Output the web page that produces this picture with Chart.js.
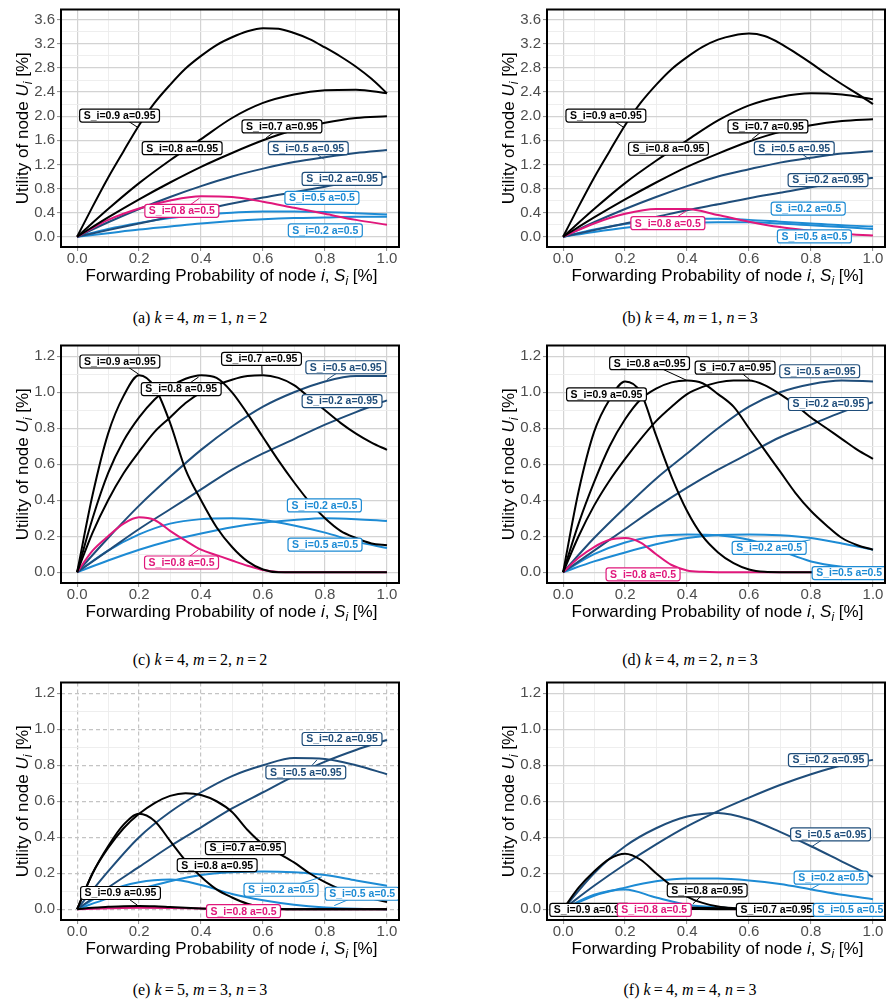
<!DOCTYPE html>
<html>
<head>
<meta charset="utf-8">
<script src="https://cdn.jsdelivr.net/npm/chart.js@4.4.1/dist/chart.umd.min.js"></script>
<style>
  body { margin: 0; background: #fff; width: 886px; height: 1008px; overflow: hidden; position: relative; }
  canvas { position: absolute; }
  .cap { position: absolute; width: 400px; text-align: center; font: 16px "Liberation Serif", "DejaVu Serif", serif; color: #000; line-height: 18px; }
</style>
</head>
<body>
<canvas id="pa" width="400" height="300" style="left:0;top:0"></canvas>
<canvas id="pb" width="400" height="300" style="left:486px;top:0"></canvas>
<canvas id="pc" width="400" height="300" style="left:0;top:336px"></canvas>
<canvas id="pd" width="400" height="300" style="left:486px;top:336px"></canvas>
<canvas id="pe" width="400" height="300" style="left:0;top:673px"></canvas>
<canvas id="pf" width="400" height="300" style="left:486px;top:673px"></canvas>

<div class="cap" style="left:0;top:309px">(a) <i>k</i>&thinsp;=&thinsp;4, <i>m</i>&thinsp;=&thinsp;1, <i>n</i>&thinsp;=&thinsp;2</div>
<div class="cap" style="left:490px;top:309px">(b) <i>k</i>&thinsp;=&thinsp;4, <i>m</i>&thinsp;=&thinsp;1, <i>n</i>&thinsp;=&thinsp;3</div>
<div class="cap" style="left:0;top:651px">(c) <i>k</i>&thinsp;=&thinsp;4, <i>m</i>&thinsp;=&thinsp;2, <i>n</i>&thinsp;=&thinsp;2</div>
<div class="cap" style="left:490px;top:651px">(d) <i>k</i>&thinsp;=&thinsp;4, <i>m</i>&thinsp;=&thinsp;2, <i>n</i>&thinsp;=&thinsp;3</div>
<div class="cap" style="left:0;top:981px">(e) <i>k</i>&thinsp;=&thinsp;5, <i>m</i>&thinsp;=&thinsp;3, <i>n</i>&thinsp;=&thinsp;3</div>
<div class="cap" style="left:490px;top:981px">(f) <i>k</i>&thinsp;=&thinsp;4, <i>m</i>&thinsp;=&thinsp;4, <i>n</i>&thinsp;=&thinsp;3</div>

<script>
// x grids the curves were read on
const xFine = [0, 0.05, 0.1, 0.15, 0.2, 0.25, 0.3, 0.35, 0.4, 0.45, 0.5, 0.55, 0.6, 0.65, 0.7, 0.75, 0.8, 0.85, 0.9, 0.95, 1];
const xCoarse = [0, 0.1, 0.2, 0.3, 0.4, 0.5, 0.6, 0.7, 0.8, 0.9, 1];

// tick labels
const xTicks = [0, 0.2, 0.4, 0.6, 0.8, 1.0];
const yTicksTall = [0, 0.4, 0.8, 1.2, 1.6, 2.0, 2.4, 2.8, 3.2, 3.6];
const yTicksShort = [0, 0.2, 0.4, 0.6, 0.8, 1.0, 1.2];

// (a) k=4, m=1, n=2
const a_09_95 = [0, 0.5, 0.98, 1.42, 1.85, 2.22, 2.52, 2.79, 3.0, 3.18, 3.31, 3.41, 3.46, 3.45, 3.38, 3.28, 3.14, 2.99, 2.82, 2.62, 2.38];
const a_08_95 = [0, 0.46, 0.89, 1.27, 1.62, 1.97, 2.22, 2.36, 2.43, 2.44, 2.38];
const a_07_95 = [0, 0.32, 0.62, 0.9, 1.16, 1.39, 1.6, 1.77, 1.89, 1.97, 2.0];
const a_05_95 = [0, 0.24, 0.46, 0.66, 0.84, 1.0, 1.13, 1.24, 1.32, 1.39, 1.44];
const a_02_95 = [0, 0.11, 0.22, 0.33, 0.44, 0.55, 0.65, 0.74, 0.83, 0.92, 1.0];
const a_08_50 = [0, 0.28, 0.47, 0.6, 0.67, 0.66, 0.58, 0.48, 0.38, 0.28, 0.2];
const a_05_50 = [0, 0.13, 0.23, 0.31, 0.37, 0.4, 0.42, 0.42, 0.41, 0.39, 0.37];
const a_02_50 = [0, 0.06, 0.12, 0.17, 0.22, 0.26, 0.29, 0.31, 0.32, 0.33, 0.33];

// (b) k=4, m=1, n=3
const b_09_95 = [0, 0.5, 0.98, 1.42, 1.85, 2.22, 2.52, 2.78, 2.98, 3.15, 3.27, 3.34, 3.37, 3.33, 3.21, 3.05, 2.88, 2.7, 2.53, 2.37, 2.2];
const b_08_95 = [0, 0.46, 0.89, 1.26, 1.6, 1.93, 2.18, 2.32, 2.38, 2.36, 2.28];
const b_07_95 = [0, 0.32, 0.62, 0.9, 1.16, 1.38, 1.58, 1.74, 1.85, 1.92, 1.95];
const b_05_95 = [0, 0.24, 0.46, 0.66, 0.84, 1.0, 1.12, 1.23, 1.31, 1.38, 1.42];
const b_02_95 = [0, 0.11, 0.22, 0.33, 0.44, 0.54, 0.64, 0.73, 0.82, 0.9, 0.98];
const b_08_50 = [0, 0.22, 0.38, 0.46, 0.46, 0.36, 0.25, 0.16, 0.1, 0.05, 0.02];
const b_05_50 = [0, 0.12, 0.21, 0.27, 0.3, 0.3, 0.28, 0.25, 0.22, 0.19, 0.17];
const b_02_50 = [0, 0.08, 0.15, 0.2, 0.23, 0.24, 0.24, 0.22, 0.19, 0.16, 0.13];

// (c) k=4, m=2, n=2
const c_09_95 = [0, 0.43, 0.77, 0.98, 1.095, 1.03, 0.83, 0.57, 0.4, 0.25, 0.14, 0.06, 0.015, 0, 0, 0, 0, 0, 0, 0, 0];
const c_08_95 = [0, 0.3, 0.55, 0.73, 0.86, 0.96, 1.03, 1.075, 1.095, 1.08, 1.0, 0.88, 0.75, 0.62, 0.5, 0.39, 0.3, 0.23, 0.19, 0.16, 0.15];
const c_07_95 = [0, 0.22, 0.4, 0.55, 0.67, 0.78, 0.86, 0.94, 1.0, 1.04, 1.07, 1.09, 1.095, 1.08, 1.04, 0.97, 0.9, 0.83, 0.77, 0.72, 0.68];
const c_05_95 = [0, 0.19, 0.37, 0.53, 0.68, 0.81, 0.92, 1.0, 1.06, 1.09, 1.09];
const c_02_95 = [0, 0.12, 0.24, 0.35, 0.46, 0.57, 0.66, 0.74, 0.82, 0.89, 0.955];
const c_08_50 = [0, 0.12, 0.2, 0.27, 0.305, 0.29, 0.23, 0.175, 0.125, 0.095, 0.065, 0.036, 0.012, 0.001, 0, 0, 0, 0, 0, 0, 0];
const c_05_50 = [0, 0.12, 0.21, 0.27, 0.295, 0.3, 0.29, 0.26, 0.22, 0.17, 0.135];
const c_02_50 = [0, 0.065, 0.125, 0.175, 0.215, 0.25, 0.275, 0.29, 0.3, 0.295, 0.285];

// (d) k=4, m=2, n=3
const d_09_95 = [0, 0.45, 0.78, 0.96, 1.06, 1.0, 0.76, 0.53, 0.34, 0.2, 0.11, 0.05, 0.015, 0.002, 0, 0, 0, 0, 0, 0, 0];
const d_08_95 = [0, 0.27, 0.5, 0.7, 0.85, 0.96, 1.02, 1.055, 1.065, 1.05, 0.99, 0.92, 0.8, 0.68, 0.56, 0.44, 0.34, 0.26, 0.19, 0.15, 0.125];
const d_07_95 = [0, 0.2, 0.37, 0.51, 0.63, 0.74, 0.84, 0.92, 0.99, 1.03, 1.055, 1.065, 1.065, 1.04, 0.99, 0.93, 0.86, 0.8, 0.74, 0.68, 0.63];
const d_05_95 = [0, 0.19, 0.36, 0.52, 0.66, 0.8, 0.92, 1.0, 1.045, 1.065, 1.06];
const d_02_95 = [0, 0.12, 0.24, 0.36, 0.47, 0.57, 0.66, 0.75, 0.82, 0.89, 0.945];
const d_08_50 = [0, 0.08, 0.14, 0.18, 0.19, 0.165, 0.1, 0.04, 0.01, 0.002, 0, 0, 0, 0, 0, 0, 0, 0, 0, 0, 0];
const d_05_50 = [0, 0.1, 0.165, 0.2, 0.21, 0.205, 0.18, 0.12, 0.06, 0.03, 0.015];
const d_02_50 = [0, 0.06, 0.11, 0.155, 0.19, 0.207, 0.21, 0.205, 0.19, 0.16, 0.125];

// (e) k=5, m=3, n=3
const e_09_95 = [0, 0.008, 0.013, 0.017, 0.018, 0.016, 0.012, 0.008, 0.004, 0.002, 0.001, 0, 0, 0, 0, 0, 0, 0, 0, 0, 0];
const e_08_95 = [0, 0.2, 0.35, 0.47, 0.53, 0.49, 0.38, 0.27, 0.18, 0.11, 0.065, 0.03, 0.01, 0.003, 0, 0, 0, 0, 0, 0, 0];
const e_07_95 = [0, 0.2, 0.34, 0.45, 0.53, 0.59, 0.63, 0.645, 0.635, 0.6, 0.54, 0.44, 0.36, 0.31, 0.26, 0.2, 0.15, 0.11, 0.08, 0.06, 0.04];
const e_05_95 = [0, 0.21, 0.4, 0.54, 0.65, 0.74, 0.8, 0.84, 0.835, 0.8, 0.75];
const e_02_95 = [0, 0.12, 0.235, 0.35, 0.455, 0.56, 0.65, 0.74, 0.82, 0.885, 0.94];
const e_08_50 = [0, 0.005, 0.008, 0.007, 0.004, 0.002, 0, 0, 0, 0, 0];
const e_05_50 = [0, 0.1, 0.15, 0.165, 0.135, 0.085, 0.05, 0.025, 0.01, 0.003, 0];
const e_02_50 = [0, 0.06, 0.11, 0.155, 0.19, 0.205, 0.21, 0.205, 0.19, 0.16, 0.13];

// (f) k=4, m=4, n=3
const f_09_95 = [0, 0.002, 0.003, 0.002, 0.001, 0, 0, 0, 0, 0, 0];
const f_08_95 = [0, 0.12, 0.21, 0.28, 0.308, 0.275, 0.2, 0.13, 0.07, 0.035, 0.015, 0.006, 0.002, 0, 0, 0, 0, 0, 0, 0, 0];
const f_07_95 = [0, 0.004, 0.008, 0.01, 0.009, 0.006, 0.003, 0.001, 0, 0, 0];
const f_05_95 = [0, 0.2, 0.35, 0.45, 0.515, 0.535, 0.5, 0.43, 0.35, 0.265, 0.18];
const f_02_95 = [0, 0.13, 0.25, 0.36, 0.46, 0.545, 0.62, 0.69, 0.75, 0.8, 0.83];
const f_08_50 = [0, 0.003, 0.005, 0.004, 0.002, 0.001, 0, 0, 0, 0, 0];
const f_05_50 = [0, 0.08, 0.11, 0.065, 0.025, 0.01, 0.003, 0.001, 0, 0, 0];
const f_02_50 = [0, 0.075, 0.12, 0.155, 0.17, 0.17, 0.16, 0.14, 0.11, 0.08, 0.055];

const COLORS = { black: '#000000', dark: '#1f4d7a', light: '#1d8bd4', pink: '#e0177b' };
const ORDER = { black: 0, pink: 1, dark: 2, light: 3 };
const SANS = '"Liberation Sans", Arial, Helvetica, sans-serif';

// one entry per curve: label text, colour group, x grid, values, label box centre, leader end
function s(text, kind, xs, ys, at, seg) {
  return { text, kind, xs, ys, at, seg };
}

const panels = [
  { id: 'pa', yMin: -0.17, yMax: 3.77, yTicks: yTicksTall, dashed: false, series: [
    s('S_i=0.9 a=0.95', 'black', xFine, a_09_95, [0.137, 2.01], [0.194, 1.82]),
    s('S_i=0.8 a=0.95', 'black', xCoarse, a_08_95, [0.339, 1.47]),
    s('S_i=0.7 a=0.95', 'black', xCoarse, a_07_95, [0.661, 1.83], [0.61, 1.64]),
    s('S_i=0.5 a=0.95', 'dark', xCoarse, a_05_95, [0.746, 1.47], [0.796, 1.29]),
    s('S_i=0.2 a=0.95', 'dark', xCoarse, a_02_95, [0.855, 0.96]),
    s('S_i=0.8 a=0.5', 'pink', xCoarse, a_08_50, [0.338, 0.43], [0.395, 0.64]),
    s('S_i=0.5 a=0.5', 'light', xCoarse, a_05_50, [0.79, 0.645]),
    s('S_i=0.2 a=0.5', 'light', xCoarse, a_02_50, [0.801, 0.107])
  ]},
  { id: 'pb', yMin: -0.17, yMax: 3.77, yTicks: yTicksTall, dashed: false, series: [
    s('S_i=0.9 a=0.95', 'black', xFine, b_09_95, [0.138, 2.01], [0.194, 1.82]),
    s('S_i=0.8 a=0.95', 'black', xCoarse, b_08_95, [0.34, 1.46]),
    s('S_i=0.7 a=0.95', 'black', xCoarse, b_07_95, [0.661, 1.83], [0.61, 1.62]),
    s('S_i=0.5 a=0.95', 'dark', xCoarse, b_05_95, [0.746, 1.47], [0.796, 1.28]),
    s('S_i=0.2 a=0.95', 'dark', xCoarse, b_02_95, [0.855, 0.94]),
    s('S_i=0.8 a=0.5', 'pink', xCoarse, b_08_50, [0.338, 0.226], [0.398, 0.43]),
    s('S_i=0.5 a=0.5', 'light', xCoarse, b_05_50, [0.811, 0.005]),
    s('S_i=0.2 a=0.5', 'light', xCoarse, b_02_50, [0.791, 0.467])
  ]},
  { id: 'pc', yMin: -0.06, yMax: 1.26, yTicks: yTicksShort, dashed: false, series: [
    s('S_i=0.9 a=0.95', 'black', xFine, c_09_95, [0.138, 1.171], [0.199, 1.1]),
    s('S_i=0.8 a=0.95', 'black', xFine, c_08_95, [0.336, 1.018], [0.392, 1.085]),
    s('S_i=0.7 a=0.95', 'black', xFine, c_07_95, [0.595, 1.186], [0.597, 1.099]),
    s('S_i=0.5 a=0.95', 'dark', xCoarse, c_05_95, [0.867, 1.139], [0.806, 1.07]),
    s('S_i=0.2 a=0.95', 'dark', xCoarse, c_02_95, [0.855, 0.951]),
    s('S_i=0.8 a=0.5', 'pink', xFine, c_08_50, [0.337, 0.054], [0.392, 0.126]),
    s('S_i=0.5 a=0.5', 'light', xCoarse, c_05_50, [0.8, 0.153]),
    s('S_i=0.2 a=0.5', 'light', xCoarse, c_02_50, [0.798, 0.371])
  ]},
  { id: 'pd', yMin: -0.06, yMax: 1.26, yTicks: yTicksShort, dashed: false, series: [
    s('S_i=0.9 a=0.95', 'black', xFine, d_09_95, [0.14, 0.988]),
    s('S_i=0.8 a=0.95', 'black', xFine, d_08_95, [0.279, 1.162], [0.398, 1.067]),
    s('S_i=0.7 a=0.95', 'black', xFine, d_07_95, [0.555, 1.137], [0.602, 1.07]),
    s('S_i=0.5 a=0.95', 'dark', xCoarse, d_05_95, [0.828, 1.117]),
    s('S_i=0.2 a=0.95', 'dark', xCoarse, d_02_95, [0.856, 0.935]),
    s('S_i=0.8 a=0.5', 'pink', xFine, d_08_50, [0.258, -0.012]),
    s('S_i=0.5 a=0.5', 'light', xCoarse, d_05_50, [0.923, -0.005]),
    s('S_i=0.2 a=0.5', 'light', xCoarse, d_02_50, [0.665, 0.135], [0.798, 0.18])
  ]},
  { id: 'pe', yMin: -0.06, yMax: 1.26, yTicks: yTicksShort, dashed: true, series: [
    s('S_i=0.9 a=0.95', 'black', xFine, e_09_95, [0.14, 0.09], [0.194, 0.023]),
    s('S_i=0.8 a=0.95', 'black', xFine, e_08_95, [0.452, 0.245]),
    s('S_i=0.7 a=0.95', 'black', xFine, e_07_95, [0.543, 0.34]),
    s('S_i=0.5 a=0.95', 'dark', xCoarse, e_05_95, [0.738, 0.761], [0.774, 0.83]),
    s('S_i=0.2 a=0.95', 'dark', xCoarse, e_02_95, [0.855, 0.946]),
    s('S_i=0.8 a=0.5', 'pink', xCoarse, e_08_50, [0.537, -0.011]),
    s('S_i=0.5 a=0.5', 'light', xCoarse, e_05_50, [0.92, 0.086], [0.83, 0.02]),
    s('S_i=0.2 a=0.5', 'light', xCoarse, e_02_50, [0.658, 0.108], [0.79, 0.18])
  ]},
  { id: 'pf', yMin: -0.06, yMax: 1.26, yTicks: yTicksShort, dashed: false, series: [
    s('S_i=0.9 a=0.95', 'black', xCoarse, f_09_95, [0.086, -0.004]),
    s('S_i=0.8 a=0.95', 'black', xFine, f_08_95, [0.465, 0.105], [0.419, 0.03]),
    s('S_i=0.7 a=0.95', 'black', xCoarse, f_07_95, [0.688, -0.004]),
    s('S_i=0.5 a=0.95', 'dark', xCoarse, f_05_95, [0.863, 0.416], [0.801, 0.346]),
    s('S_i=0.2 a=0.95', 'dark', xCoarse, f_02_95, [0.856, 0.829]),
    s('S_i=0.8 a=0.5', 'pink', xCoarse, f_08_50, [0.294, -0.004]),
    s('S_i=0.5 a=0.5', 'light', xCoarse, f_05_50, [0.927, -0.004]),
    s('S_i=0.2 a=0.5', 'light', xCoarse, f_02_50, [0.865, 0.175], [0.8, 0.112])
  ]}
];

const xTitle = [
  { t: 'Forwarding Probability of node ' }, { t: 'i', it: true }, { t: ', ' },
  { t: 'S', it: true }, { t: 'i', it: true, sub: true }, { t: ' [%]' }
];
const yTitle = [
  { t: 'Utility of node ' }, { t: 'U', it: true }, { t: 'i', it: true, sub: true }, { t: ' [%]' }
];

function drawRich(ctx, parts, cx, y) {
  const fontOf = p => (p.it ? 'italic ' : '') + (p.sub ? '12px ' : '17px ') + SANS;
  let total = 0;
  parts.forEach(p => { ctx.font = fontOf(p); total += ctx.measureText(p.t).width; });
  let x = cx - total / 2;
  ctx.textAlign = 'left';
  ctx.textBaseline = 'alphabetic';
  parts.forEach(p => {
    ctx.font = fontOf(p);
    ctx.fillText(p.t, x, y + (p.sub ? 4 : 0));
    x += ctx.measureText(p.t).width;
  });
}

function boxPath(ctx, x, y, w, h, r) {
  ctx.beginPath();
  ctx.moveTo(x + r, y);
  ctx.lineTo(x + w - r, y);
  ctx.quadraticCurveTo(x + w, y, x + w, y + r);
  ctx.lineTo(x + w, y + h - r);
  ctx.quadraticCurveTo(x + w, y + h, x + w - r, y + h);
  ctx.lineTo(x + r, y + h);
  ctx.quadraticCurveTo(x, y + h, x, y + h - r);
  ctx.lineTo(x, y + r);
  ctx.quadraticCurveTo(x, y, x + r, y);
  ctx.closePath();
}

const curveLabels = {
  id: 'curveLabels',
  afterDatasetsDraw(chart, args, opts) {
    const ctx = chart.ctx, sx = chart.scales.x, sy = chart.scales.y;
    const items = opts.items || [];
    ctx.save();
    ctx.lineWidth = 1;
    items.forEach(it => {
      if (!it.seg) return;
      ctx.strokeStyle = COLORS[it.kind];
      ctx.beginPath();
      ctx.moveTo(sx.getPixelForValue(it.at[0]), sy.getPixelForValue(it.at[1]));
      ctx.lineTo(sx.getPixelForValue(it.seg[0]), sy.getPixelForValue(it.seg[1]));
      ctx.stroke();
    });
    ctx.font = 'bold 10.5px ' + SANS;
    ctx.textAlign = 'center';
    ctx.textBaseline = 'middle';
    items.forEach(it => {
      const cx = sx.getPixelForValue(it.at[0]), cy = sy.getPixelForValue(it.at[1]);
      const w = ctx.measureText(it.text).width + 8, h = 13;
      boxPath(ctx, cx - w / 2, cy - h / 2, w, h, 2.5);
      ctx.fillStyle = '#ffffff';
      ctx.fill();
      ctx.lineWidth = 1.2;
      ctx.strokeStyle = COLORS[it.kind];
      ctx.stroke();
      ctx.fillStyle = COLORS[it.kind];
      ctx.fillText(it.text, cx, cy + 0.5);
    });
    ctx.restore();
  }
};

const frameAndTitles = {
  id: 'frameAndTitles',
  afterDraw(chart) {
    const ctx = chart.ctx, a = chart.chartArea;
    ctx.save();
    ctx.strokeStyle = '#000';
    ctx.lineWidth = 2;
    ctx.strokeRect(a.left, a.top, a.right - a.left - 1, a.bottom - a.top);
    ctx.fillStyle = '#000';
    drawRich(ctx, xTitle, a.left + 170.5, 281);
    ctx.translate(27.5, (a.top + a.bottom) / 2);
    ctx.rotate(-Math.PI / 2);
    drawRich(ctx, yTitle, 0, 0);
    ctx.restore();
  }
};

function near(list, v) {
  return list.some(t => Math.abs(t - v) < 1e-6);
}
function withMinor(major) {
  const out = [];
  major.forEach((v, i) => {
    out.push(v);
    if (i < major.length - 1) out.push((v + major[i + 1]) / 2);
  });
  return out;
}

function axis(major, min, max, dashed, isX) {
  const all = withMinor(major);
  return {
    type: 'linear',
    min, max,
    afterBuildTicks: sc => { sc.ticks = all.map(v => ({ value: v })); },
    afterFit: sc => { if (isX) sc.height = 53; else sc.width = 61; },
    ticks: {
      autoSkip: false,
      maxRotation: 0,
      padding: isX ? 0 : 2,
      color: '#4d4d4d',
      font: { family: SANS, size: 15, lineHeight: 1 },
      callback: v => near(major, v) ? v.toFixed(1) : ''
    },
    grid: {
      color: c => near(major, c.tick.value) ? (dashed ? '#c4c4c4' : '#d3d3d3') : '#ececec',
      lineWidth: c => near(major, c.tick.value) ? 1.2 : 0.9,
      drawTicks: true,
      tickLength: 4,
      tickColor: c => near(major, c.tick.value) ? '#8a8a8a' : 'rgba(0,0,0,0)',
      tickWidth: 1
    },
    border: {
      display: false,
      dash: c => (dashed && c.tick && near(major, c.tick.value)) ? [4, 3] : []
    }
  };
}

panels.forEach(p => {
  const datasets = p.series.map(sr => ({
    label: sr.text,
    data: sr.xs.map((x, i) => ({ x, y: sr.ys[i] })),
    borderColor: COLORS[sr.kind],
    borderWidth: 2,
    pointRadius: 0,
    fill: false,
    cubicInterpolationMode: 'monotone',
    order: ORDER[sr.kind]
  }));
  new Chart(document.getElementById(p.id).getContext('2d'), {
    type: 'line',
    data: { datasets },
    options: {
      responsive: false,
      animation: false,
      devicePixelRatio: 1,
      layout: { padding: { top: 3, right: 0, bottom: 0, left: 0 } },
      plugins: {
        legend: { display: false },
        tooltip: { enabled: false },
        curveLabels: { items: p.series }
      },
      scales: {
        x: axis(xTicks, -0.052, 1.042, p.dashed, true),
        y: axis(p.yTicks, p.yMin, p.yMax, p.dashed, false)
      }
    },
    plugins: [curveLabels, frameAndTitles]
  });
});
</script>
</body>
</html>
